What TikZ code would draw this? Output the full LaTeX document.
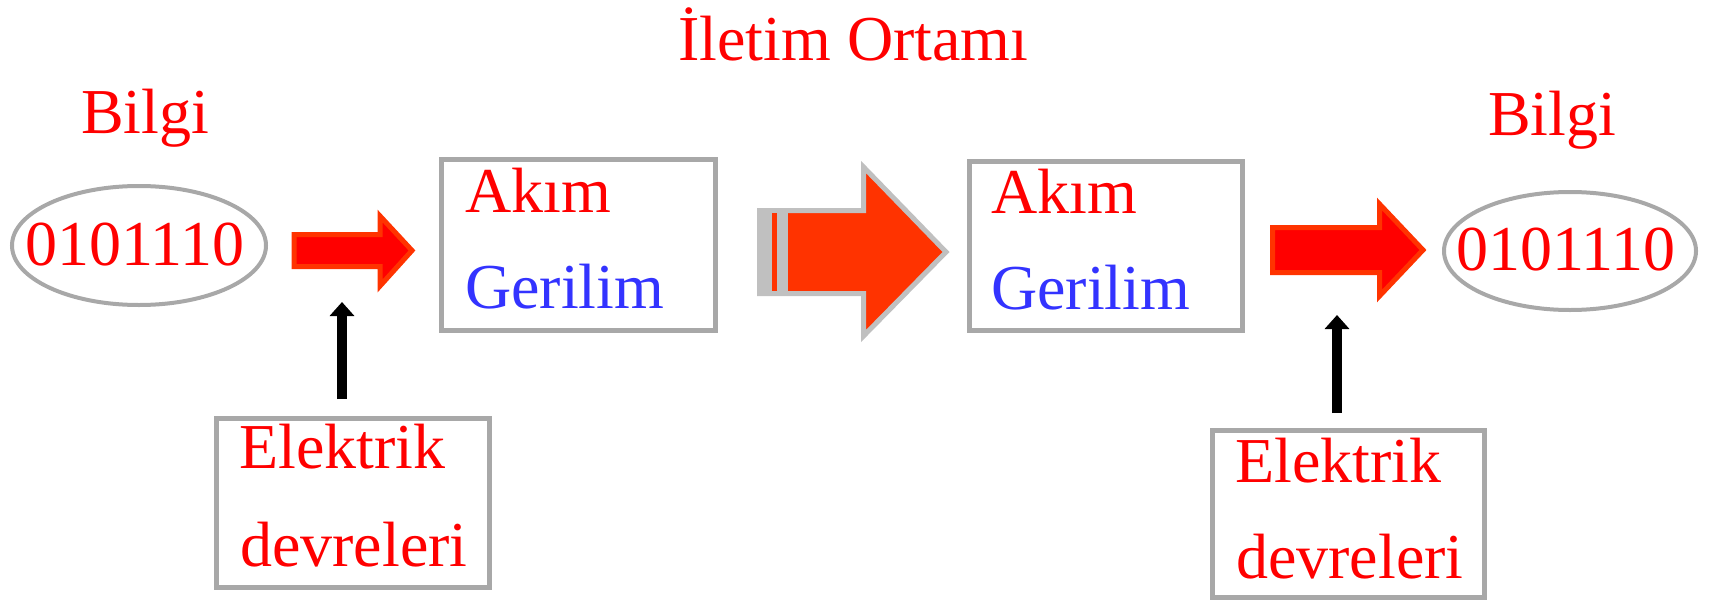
\documentclass[tikz,border=0pt]{standalone}
\usepackage{fontspec}
\setmainfont{Liberation Serif}
\usetikzlibrary{arrows.meta}
\definecolor{txtred}{HTML}{FF0000}
\definecolor{txtblue}{HTML}{3333FF}
\definecolor{frame}{HTML}{A8A8A8}
\definecolor{arrowedge}{HTML}{FF3300}
\definecolor{mediumedge}{HTML}{C0C0C0}
\tikzset{
  big/.style={font=\fontsize{64}{72}\selectfont, inner sep=0pt, anchor=base west},
  lbl/.style={big, text=txtred},
  lblblue/.style={big, text=txtblue},
  framebox/.style={draw=frame, line width=5pt, rectangle, inner sep=0pt, fill=white},
  smallarrow/.style={fill=txtred, draw=arrowedge, line width=5pt, line join=miter},
  feed/.style={line width=10pt, -{Triangle[width=24pt,length=14pt]}},
}
\begin{document}
\begin{tikzpicture}[x=1pt, y=-1pt]
\useasboundingbox (0,0) rectangle (1715,602);

% title and source/target labels
\node[lbl] (title) at (678,60) {İletim Ortamı};
\node[lbl] (bilgiL) at (81,133) {Bilgi};
\node[lbl] (bilgiR) at (1488,135) {Bilgi};

% data ovals
\draw[draw=frame, line width=4pt] (139,245.5) ellipse [x radius=127, y radius=59.5];
\node[lbl] (dataL) at (25,265) {0101110};
\draw[draw=frame, line width=4pt] (1570,251) ellipse [x radius=126, y radius=59];
\node[lbl] (dataR) at (1456,270) {0101110};

% signal boxes
\node[framebox, minimum width=274pt, minimum height=171pt] (sigL) at (578.5,245) {};
\node[lbl] (akimL) at (465,212) {Akım};
\node[lblblue] (gerL) at (465,308) {Gerilim};

\node[framebox, minimum width=273pt, minimum height=169pt] (sigR) at (1106,246) {};
\node[lbl] (akimR) at (991,213) {Akım};
\node[lblblue] (gerR) at (991,309) {Gerilim};

% circuit boxes
\node[framebox, minimum width=273pt, minimum height=169pt] (elecL) at (353,503) {};
\node[lbl] (elecLa) at (239,468) {Elektrik};
\node[lbl] (elecLb) at (240,566) {devreleri};

\node[framebox, minimum width=272pt, minimum height=167pt] (elecR) at (1348.5,514) {};
\node[lbl] (elecRa) at (1235,482) {Elektrik};
\node[lbl] (elecRb) at (1236,578) {devreleri};

% block arrows
\draw[smallarrow] (294,234.5) -- (380,234.5) -- (380,216) -- (412,250.5)
  -- (380,286) -- (380,266.5) -- (294,266.5) -- cycle;
\draw[smallarrow] (1272.5,227.5) -- (1379.5,227.5) -- (1379.5,204) -- (1423,250)
  -- (1379.5,296) -- (1379.5,272.5) -- (1272.5,272.5) -- cycle;

% transmission medium arrow
\draw[fill=arrowedge, draw=mediumedge, line width=5pt, line join=miter]
  (759.5,210.5) -- (863.5,210.5) -- (863.5,167) -- (946,252)
  -- (863.5,336) -- (863.5,293.5) -- (759.5,293.5) -- cycle;
\fill[mediumedge] (757,208) rectangle (788,296);
\fill[arrowedge] (772,213) rectangle (777,291);

% feed arrows from the circuits
\coordinate (feedLfrom) at (342,399);
\coordinate (feedLto) at (342,302);
\coordinate (feedRfrom) at (1337,413);
\coordinate (feedRto) at (1337,315);
\draw[feed] (feedLfrom) -- (feedLto);
\draw[feed] (feedRfrom) -- (feedRto);
\end{tikzpicture}
\end{document}
